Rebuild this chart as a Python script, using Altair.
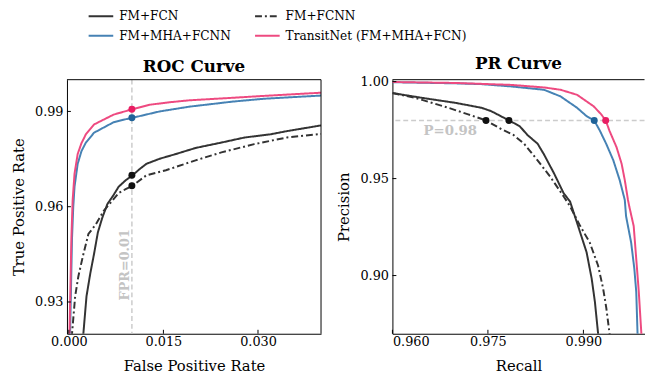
import altair as alt
import pandas as pd

# legend order (filled column by column, as in the original figure)
models = ["FM+FCN", "FM+MHA+FCNN", "FM+FCNN", "TransitNet (FM+MHA+FCN)"]
line_colors = ["#333333", "#4682b4", "#333333", "#ee4a80"]
dot_colors = ["#111111", "#1f6399", "#111111", "#e91e63"]
dash_styles = [[1, 0], [1, 0], [7, 3, 2, 3], [1, 0]]

# ---------------- ROC curve data ----------------
roc_fcn_fpr = [0.0020, 0.0023, 0.0028, 0.0034, 0.0040, 0.0046, 0.0053, 0.0061, 0.0071, 0.0079, 0.0090, 0.0101,
               0.0112, 0.0123, 0.0144, 0.0170, 0.0201, 0.0242, 0.0279, 0.0320, 0.0346, 0.0400]
roc_fcn_tpr = [0.9140, 0.9200, 0.9318, 0.9390, 0.9452, 0.9519, 0.9565, 0.9608, 0.9637, 0.9663, 0.9683, 0.9699,
               0.9718, 0.9735, 0.9751, 0.9766, 0.9785, 0.9802, 0.9818, 0.9828, 0.9838, 0.9856]

roc_fcnn_fpr = [0.0004, 0.0005, 0.0010, 0.0015, 0.0022, 0.0031, 0.0043, 0.0055, 0.0066, 0.0079, 0.0090, 0.0101,
                0.0123, 0.0154, 0.0201, 0.0242, 0.0294, 0.0346, 0.0400]
roc_fcnn_tpr = [0.9140, 0.9200, 0.9318, 0.9380, 0.9442, 0.9514, 0.9545, 0.9586, 0.9612, 0.9643, 0.9655, 0.9666,
                0.9699, 0.9715, 0.9746, 0.9771, 0.9797, 0.9818, 0.9829]

roc_mha_fpr = [0.0001, 0.0003, 0.0005, 0.0007, 0.0009, 0.0014, 0.0020, 0.0027, 0.0040, 0.0055, 0.0071, 0.0087,
               0.0101, 0.0144, 0.0191, 0.0260, 0.0310, 0.0400]
roc_mha_tpr = [0.9100, 0.9300, 0.9500, 0.9600, 0.9663, 0.9735, 0.9775, 0.9802, 0.9833, 0.9849, 0.9866, 0.9874,
               0.9880, 0.9900, 0.9915, 0.9931, 0.9940, 0.9950]

roc_tn_fpr = [0.0000, 0.0002, 0.0004, 0.0006, 0.0009, 0.0014, 0.0020, 0.0027, 0.0040, 0.0055, 0.0071, 0.0085,
              0.0101, 0.0128, 0.0160, 0.0191, 0.0260, 0.0310, 0.0400]
roc_tn_tpr = [0.9100, 0.9300, 0.9500, 0.9620, 0.9704, 0.9766, 0.9800, 0.9828, 0.9859, 0.9874, 0.9890, 0.9898,
              0.9907, 0.9921, 0.9929, 0.9935, 0.9943, 0.9949, 0.9959]

roc_dot_tpr = [0.9699, 0.9880, 0.9666, 0.9907]   # at FPR = 0.01, in model order

# ---------------- PR curve data ----------------
pr_fcn_rec = [0.9600, 0.9647, 0.9700, 0.9740, 0.9755, 0.9783, 0.9800, 0.9812, 0.9828, 0.9838, 0.9854, 0.9869,
              0.9879, 0.9890, 0.9905, 0.9913, 0.9918, 0.9923, 0.9925]
pr_fcn_prec = [0.9941, 0.9916, 0.9890, 0.9865, 0.9848, 0.9800, 0.9770, 0.9725, 0.9680, 0.9625, 0.9526, 0.9424,
               0.9382, 0.9272, 0.9120, 0.8984, 0.8866, 0.8703, 0.8650]

pr_fcnn_rec = [0.9600, 0.9636, 0.9688, 0.9719, 0.9747, 0.9771, 0.9790, 0.9807, 0.9828, 0.9848, 0.9869, 0.9879,
               0.9895, 0.9910, 0.9923, 0.9931, 0.9936, 0.9941, 0.9943]
pr_fcnn_prec = [0.9941, 0.9916, 0.9865, 0.9831, 0.9800, 0.9755, 0.9725, 0.9679, 0.9594, 0.9509, 0.9408, 0.9357,
                0.9255, 0.9170, 0.9052, 0.8933, 0.8832, 0.8703, 0.8650]

pr_mha_rec = [0.9600, 0.9700, 0.9740, 0.9787, 0.9838, 0.9864, 0.9890, 0.9905, 0.9917, 0.9926, 0.9936, 0.9947,
              0.9957, 0.9965, 0.9967, 0.9975, 0.9980, 0.9983, 0.9985, 0.9986]
pr_mha_prec = [0.9997, 0.9991, 0.9987, 0.9975, 0.9958, 0.9924, 0.9865, 0.9822, 0.9800, 0.9746, 0.9678, 0.9594,
               0.9492, 0.9390, 0.9306, 0.9170, 0.9035, 0.8916, 0.8703, 0.8650]

pr_tn_rec = [0.9600, 0.9700, 0.9787, 0.9838, 0.9864, 0.9890, 0.9916, 0.9928, 0.9935, 0.9941, 0.9952, 0.9960,
             0.9965, 0.9970, 0.9972, 0.9979, 0.9983, 0.9987, 0.9991, 0.9992]
pr_tn_prec = [0.9998, 0.9993, 0.9983, 0.9970, 0.9958, 0.9932, 0.9873, 0.9831, 0.9800, 0.9746, 0.9662, 0.9577,
              0.9492, 0.9390, 0.9357, 0.9255, 0.9086, 0.8916, 0.8703, 0.8650]

pr_dot_rec = [0.9783, 0.9917, 0.9747, 0.9935]   # at precision = 0.98, in model order

roc_xticks = [0.0, 0.015, 0.030]
roc_yticks = [0.93, 0.96, 0.99]
pr_xticks = [0.960, 0.975, 0.990]
pr_yticks = [0.90, 0.95, 1.00]

FPR_REF = 0.01
P_REF = 0.98

FONT = "DejaVu Serif"
H = 258
W_ROC = 258
W_PR = 256


def curves_df(xs_list, ys_list):
    rows = []
    for m, xs, ys in zip(models, xs_list, ys_list):
        for i, (a, b) in enumerate(zip(xs, ys)):
            rows.append({"model": m, "x": a, "y": b, "i": i})
    return pd.DataFrame(rows)


color_enc = alt.Color("model:N", scale=alt.Scale(domain=models, range=line_colors), sort=models,
                      legend=alt.Legend(title=None))
dash_enc = alt.StrokeDash("model:N", scale=alt.Scale(domain=models, range=dash_styles), sort=models,
                          legend=alt.Legend(title=None))


def panel(df, dots, xdom, ydom, xticks, yticks, xfmt, yfmt, xtitle, ytitle, title, W, ref_layer_fn, ann, right_frame):
    xs = alt.Scale(domain=xdom, nice=False, zero=False)
    ys = alt.Scale(domain=ydom, nice=False, zero=False)
    xax = alt.Axis(title=xtitle, values=xticks, format=xfmt)
    yax = alt.Axis(title=ytitle, values=yticks, format=yfmt)

    def X(f):
        return alt.X(f, scale=xs, axis=xax)

    def Y(f):
        return alt.Y(f, scale=ys, axis=yax)

    ref = ref_layer_fn(X, Y)
    lines = alt.Chart(df).mark_line(clip=True, strokeWidth=2).encode(
        x=X("x:Q"), y=Y("y:Q"), color=color_enc, strokeDash=dash_enc, order="i:Q")
    pts = alt.Chart(dots).mark_point(filled=True, size=50, opacity=1).encode(
        x=X("x:Q"), y=Y("y:Q"), color=alt.Color("c:N", scale=None))
    txt = ann(X, Y)
    xt = alt.Chart(pd.DataFrame({"x": xticks})).mark_rule(color="black", strokeWidth=1).encode(
        x=X("x:Q"), y=alt.value(H), y2=alt.value(H - 4))
    yt = alt.Chart(pd.DataFrame({"y": yticks})).mark_rule(color="black", strokeWidth=1).encode(
        y=Y("y:Q"), x=alt.value(0), x2=alt.value(4))
    top = alt.Chart(pd.DataFrame({"a": [0]})).mark_rule(color="black", strokeWidth=1).encode(
        x=alt.value(0), x2=alt.value(W), y=alt.value(0))
    layers = [ref, lines, pts, txt, xt, yt, top]
    if right_frame:
        layers.append(alt.Chart(pd.DataFrame({"a": [0]})).mark_rule(color="black", strokeWidth=1).encode(
            x=alt.value(W), y=alt.value(0), y2=alt.value(H)))
    return alt.layer(*layers).properties(
        width=W, height=H,
        title=alt.TitleParams(title, font=FONT, fontSize=17, fontWeight="bold", offset=3, color="black"))


roc_df = curves_df([roc_fcn_fpr, roc_mha_fpr, roc_fcnn_fpr, roc_tn_fpr],
                   [roc_fcn_tpr, roc_mha_tpr, roc_fcnn_tpr, roc_tn_tpr])
roc_dots = pd.DataFrame({"x": [FPR_REF] * 4, "y": roc_dot_tpr, "c": dot_colors})
pr_df = curves_df([pr_fcn_rec, pr_mha_rec, pr_fcnn_rec, pr_tn_rec],
                  [pr_fcn_prec, pr_mha_prec, pr_fcnn_prec, pr_tn_prec])
pr_dots = pd.DataFrame({"x": pr_dot_rec, "y": [P_REF] * 4, "c": dot_colors})

REF_COLOR = "#cccccc"
ANN_COLOR = "#c4c4c4"


def roc_ref(X, Y):
    return alt.Chart(pd.DataFrame({"x": [FPR_REF]})).mark_rule(
        color=REF_COLOR, strokeDash=[5, 3], strokeWidth=1.5).encode(x=X("x:Q"))


def roc_ann(X, Y):
    return alt.Chart(pd.DataFrame({"x": [FPR_REF], "y": [0.9417], "t": ["FPR=0.01"]})).mark_text(
        font=FONT, fontWeight="bold", fontSize=13, color=ANN_COLOR, angle=270, baseline="bottom",
        align="center").encode(x=X("x:Q"), y=Y("y:Q"), text="t:N")


def pr_ref(X, Y):
    return alt.Chart(pd.DataFrame({"y": [P_REF]})).mark_rule(
        color=REF_COLOR, strokeDash=[5, 3], strokeWidth=1.5).encode(y=Y("y:Q"))


def pr_ann(X, Y):
    return alt.Chart(pd.DataFrame({"x": [0.9691], "y": [P_REF], "t": ["P=0.98"]})).mark_text(
        font=FONT, fontWeight="bold", fontSize=13.5, color=ANN_COLOR, baseline="top",
        align="center", dy=4).encode(x=X("x:Q"), y=Y("y:Q"), text="t:N")


roc = panel(roc_df, roc_dots, [-0.0003, 0.04], [0.92, 1.0], roc_xticks, roc_yticks, ".3f", ".2f",
            "False Positive Rate", "True Positive Rate", "ROC Curve", W_ROC, roc_ref, roc_ann, True)
pr = panel(pr_df, pr_dots, [0.96, 0.9996], [0.87, 1.001], pr_xticks, pr_yticks, ".3f", ".2f",
           "Recall", "Precision", "PR Curve", W_PR, pr_ref, pr_ann, False)

chart = alt.hconcat(roc, pr, spacing=14.5).properties(
    padding={"left": 11, "top": 0, "right": 0, "bottom": 0}
).configure_view(stroke=None).configure_axis(
    domainColor="black", domainWidth=1, ticks=False, tickSize=0, grid=False,
    labelFont=FONT, labelFontSize=13, labelColor="black",
    titleFont=FONT, titleFontSize=15, titleFontWeight="normal", titleColor="black"
).configure_axisX(labelPadding=2, titlePadding=10).configure_axisY(labelPadding=4, titlePadding=8.5).configure_legend(
    orient="none", legendX=21, legendY=-78, columns=2, symbolType="stroke", symbolSize=625,
    symbolStrokeWidth=2, labelFont=FONT, labelFontSize=12.3, labelColor="black", labelOffset=5,
    columnPadding=20, rowPadding=-2, padding=0, labelLimit=300
)

chart.save("out.html", embed_options={"renderer": "svg", "actions": False})
